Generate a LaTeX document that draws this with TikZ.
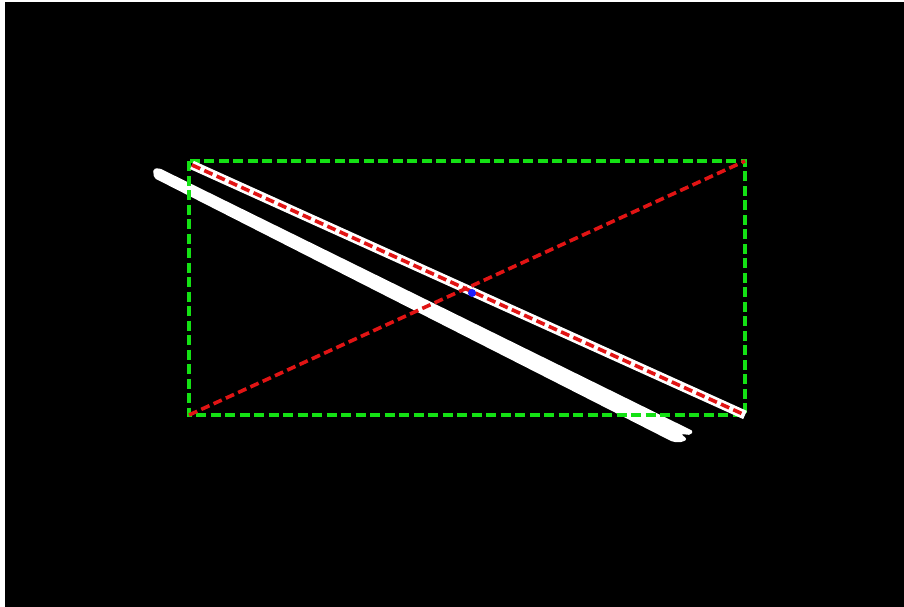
\documentclass[tikz,border=0pt]{standalone}
\usepackage{tikz}
\usetikzlibrary{arrows.meta,positioning,shapes}

\definecolor{boxgreen}{RGB}{20,225,20}
\definecolor{diagred}{RGB}{225,20,20}
\definecolor{dotblue}{RGB}{30,30,255}

\begin{document}
\begin{tikzpicture}[x=1pt,y=-1pt,
    greenbox/.style={draw=boxgreen,line width=4pt,dash pattern=on 10pt off 4.5pt},
    reddiag/.style={draw=diagred,line width=3.6pt,dash pattern=on 9pt off 4.5pt},
    whitecase/.style={draw=white,line width=9pt}]
      \useasboundingbox (0,0) rectangle (904,607);
      \fill[white] (0,0) rectangle (904,607);
      \fill[black] (5,2) rectangle (910,612);
      % box corners
      \coordinate (tl) at (189,161);
      \coordinate (tr) at (745,161);
      \coordinate (bl) at (189,415);
      \coordinate (br) at (745,415);
      \coordinate (dtl) at (192,165);
      \coordinate (dbr) at (745,415);
      % white stroke
      \fill[white,rounded corners=2pt] (153,169) -- (159,168) -- (693,431) -- (691,435)
        -- (681,434) -- (687,439) -- (683,442) -- (673,442) -- (154,178) -- cycle;
      \draw[greenbox] (tl) rectangle (br);
      \draw[whitecase] (dtl)--(dbr);
      \draw[reddiag] (dtl)--(dbr);
      \draw[reddiag] (bl)--(tr);
      \node[circle,fill=dotblue,inner sep=0pt,minimum size=8pt] (cross) at (472,293) {};
    \end{tikzpicture}
\end{document}
